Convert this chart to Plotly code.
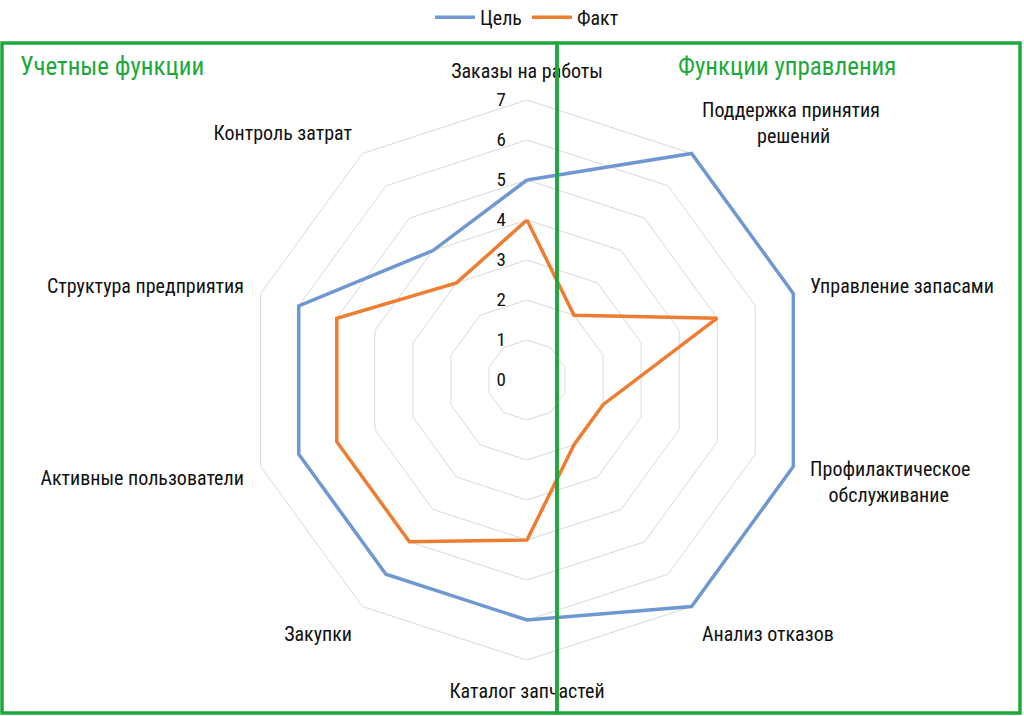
import plotly.graph_objects as go

NB = "\u00a0"
categories = [
    "Заказы на работы",
    "Поддержка принятия<br>" + NB * 12 + "решений",
    "Управление запасами",
    "Профилактическое<br>" + NB * 4 + "обслуживание",
    "Анализ отказов",
    "Каталог запчастей",
    "Закупки",
    "Активные пользователи",
    "Структура предприятия",
    "Контроль затрат",
]
target = [5, 7, 7, 7, 7, 6, 6, 6, 6, 4]
actual = [4, 2, 5, 2, 2, 4, 5, 5, 5, 3]
radial_ticks = [0, 1, 2, 3, 4, 5, 6, 7]
series_names = ["Цель", "Факт"]
group_titles = ["Учетные функции", "Функции управления"]

FONT = "Roboto Condensed, DejaVu Sans Condensed, Liberation Sans Narrow, Roboto, sans-serif"
BLUE = "#6f97d2"
ORANGE = "#ed7d31"
GREEN = "#1ea83c"
TXT = "#111111"

W, H = 1024, 716
RMAX = 7.08
cx, cy = 527, 380
R = 280 * RMAX / 7

fig = go.Figure()
for name, vals, col in [(series_names[0], target, BLUE), (series_names[1], actual, ORANGE)]:
    fig.add_trace(go.Scatterpolar(
        r=vals + vals[:1], theta=categories + categories[:1],
        mode="lines", name=name, line=dict(color=col, width=3.5),
        cliponaxis=False,
    ))

fig.update_layout(
    width=W, height=H,
    margin=dict(l=0, r=0, t=0, b=0, autoexpand=False),
    paper_bgcolor="white",
    font=dict(family=FONT, size=20, color=TXT),
    legend=dict(orientation="h", x=527 / W, xanchor="center", y=1.003, yanchor="top",
                font=dict(size=20), bgcolor="rgba(0,0,0,0)", itemwidth=40),
    polar=dict(
        domain=dict(x=[(cx - R) / W, (cx + R) / W], y=[1 - (cy + R) / H, 1 - (cy - R) / H]),
        gridshape="linear",
        bgcolor="white",
        radialaxis=dict(range=[0, RMAX], tickvals=radial_ticks, angle=90, tickangle=90,
                        side="counterclockwise", showline=False,
                        ticks="outside", ticklen=14, tickcolor="rgba(0,0,0,0)",
                        gridcolor="#d9d9d9", gridwidth=1, layer="below traces",
                        tickfont=dict(size=19, color=TXT)),
        angularaxis=dict(direction="clockwise", rotation=90, categoryorder="array",
                         categoryarray=categories, showgrid=False, showline=False,
                         layer="below traces",
                         ticks="outside", ticklen=10, tickcolor="rgba(0,0,0,0)",
                         tickfont=dict(size=20, color=TXT)),
    ),
)

shapes = [
    dict(type="rect", xref="paper", yref="paper", x0=2 / W, x1=557 / W,
         y0=1 - 713 / H, y1=1 - 43 / H, line=dict(color=GREEN, width=3.5)),
    dict(type="rect", xref="paper", yref="paper", x0=557 / W, x1=1020 / W,
         y0=1 - 713 / H, y1=1 - 43 / H, line=dict(color=GREEN, width=3.5)),
]
fig.update_layout(shapes=shapes)
fig.add_annotation(text=group_titles[0], xref="paper", yref="paper", x=18 / W, y=1 - 66 / H,
                   xanchor="left", yanchor="middle", showarrow=False,
                   font=dict(family=FONT, size=25, color=GREEN))
fig.add_annotation(text=group_titles[1], xref="paper", yref="paper", x=676 / W, y=1 - 66 / H,
                   xanchor="left", yanchor="middle", showarrow=False,
                   font=dict(family=FONT, size=25, color=GREEN))

fig.write_html("out.html", config={"displayModeBar": False},
               post_script="document.body.style.margin='0';document.body.style.overflow='hidden';")
